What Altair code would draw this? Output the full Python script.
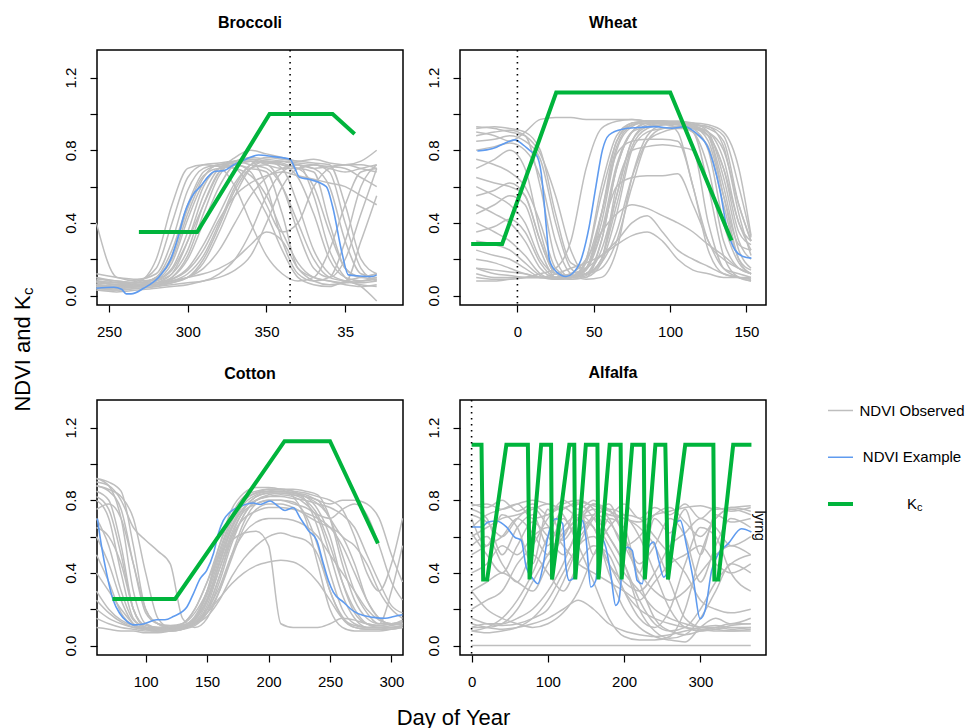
import altair as alt
import pandas as pd

FONT = "Liberation Sans"
GREY = "#BEBEBE"
BLUE = "#5F9BEF"
GREEN = "#00B43C"
YDOM = [-0.052, 1.352]

# ---------------- Broccoli ----------------
broc_days = [242, 255, 268, 280, 290, 300, 310, 320, 330, 340, 350, 360, 370, 380, 390, 400, 410, 420]
broc_obs = [
    [0.08, 0.06, 0.08, 0.15, 0.40, 0.65, 0.72, 0.73, 0.74, 0.72, 0.70, 0.60, 0.40, 0.20, 0.10, 0.08, 0.07, 0.08],
    [0.10, 0.07, 0.06, 0.10, 0.25, 0.50, 0.68, 0.72, 0.74, 0.75, 0.74, 0.72, 0.65, 0.45, 0.20, 0.10, 0.08, 0.09],
    [0.05, 0.04, 0.05, 0.07, 0.12, 0.30, 0.55, 0.70, 0.74, 0.76, 0.75, 0.74, 0.72, 0.70, 0.60, 0.30, 0.12, 0.10],
    [0.06, 0.05, 0.05, 0.06, 0.08, 0.10, 0.18, 0.35, 0.55, 0.70, 0.74, 0.73, 0.70, 0.72, 0.70, 0.68, 0.70, 0.72],
    [0.04, 0.03, 0.04, 0.05, 0.06, 0.07, 0.08, 0.12, 0.20, 0.35, 0.55, 0.68, 0.72, 0.70, 0.71, 0.72, 0.70, 0.68],
    [0.08, 0.07, 0.06, 0.07, 0.10, 0.20, 0.40, 0.60, 0.72, 0.74, 0.60, 0.30, 0.12, 0.08, 0.10, 0.30, 0.60, 0.72],
    [0.40, 0.10, 0.08, 0.09, 0.15, 0.35, 0.60, 0.70, 0.72, 0.70, 0.68, 0.45, 0.15, 0.10, 0.08, 0.06, 0.05, 0.06],
    [0.12, 0.10, 0.09, 0.12, 0.30, 0.58, 0.70, 0.72, 0.73, 0.75, 0.72, 0.70, 0.70, 0.68, 0.40, 0.15, 0.10, 0.12],
    [0.05, 0.05, 0.06, 0.06, 0.08, 0.10, 0.12, 0.15, 0.20, 0.28, 0.35, 0.30, 0.15, 0.08, 0.06, 0.07, 0.30, 0.55],
    [0.06, 0.05, 0.05, 0.08, 0.14, 0.30, 0.50, 0.68, 0.76, 0.80, 0.78, 0.76, 0.74, 0.75, 0.73, 0.72, 0.74, 0.80],
    [0.07, 0.06, 0.05, 0.06, 0.07, 0.10, 0.15, 0.25, 0.40, 0.55, 0.65, 0.70, 0.72, 0.55, 0.25, 0.10, 0.05, -0.03],
    [0.09, 0.08, 0.07, 0.10, 0.20, 0.45, 0.65, 0.72, 0.70, 0.60, 0.45, 0.25, 0.10, 0.06, 0.05, 0.08, 0.10, 0.12],
    [0.05, 0.04, 0.05, 0.06, 0.09, 0.15, 0.28, 0.45, 0.62, 0.72, 0.76, 0.75, 0.74, 0.73, 0.72, 0.50, 0.20, 0.12],
    [0.03, 0.03, 0.04, 0.05, 0.07, 0.10, 0.20, 0.38, 0.58, 0.70, 0.72, 0.60, 0.35, 0.15, 0.10, 0.20, 0.45, 0.70],
    [0.06, 0.05, 0.07, 0.20, 0.50, 0.70, 0.72, 0.71, 0.70, 0.66, 0.55, 0.35, 0.18, 0.10, 0.08, 0.07, 0.08, 0.10],
    [0.04, 0.04, 0.05, 0.06, 0.10, 0.22, 0.45, 0.66, 0.74, 0.74, 0.73, 0.72, 0.70, 0.60, 0.35, 0.15, 0.10, 0.09],
    [0.07, 0.06, 0.06, 0.08, 0.12, 0.25, 0.50, 0.68, 0.72, 0.68, 0.50, 0.35, 0.40, 0.60, 0.70, 0.72, 0.72, 0.70],
    [0.05, 0.05, 0.05, 0.06, 0.08, 0.12, 0.22, 0.40, 0.60, 0.72, 0.74, 0.70, 0.50, 0.25, 0.12, 0.08, 0.06, 0.05],
    [0.10, 0.08, 0.07, 0.09, 0.18, 0.42, 0.62, 0.70, 0.72, 0.74, 0.73, 0.74, 0.73, 0.72, 0.71, 0.70, 0.65, 0.60],
    [0.03, 0.02, 0.03, 0.04, 0.05, 0.06, 0.08, 0.10, 0.14, 0.22, 0.40, 0.60, 0.70, 0.72, 0.68, 0.40, 0.15, 0.08],
    [0.08, 0.07, 0.07, 0.10, 0.22, 0.48, 0.66, 0.70, 0.60, 0.40, 0.22, 0.12, 0.08, 0.10, 0.25, 0.50, 0.68, 0.70],
    [0.06, 0.05, 0.06, 0.07, 0.09, 0.14, 0.25, 0.42, 0.55, 0.62, 0.66, 0.68, 0.66, 0.64, 0.62, 0.60, 0.55, 0.50],
]
broc_ex_day = [242, 253, 258, 261, 264, 272, 282, 289, 294, 298, 304, 308, 313, 317, 323, 329, 337, 345,
               354, 365, 368, 371, 377, 388, 392, 398, 402, 409, 417, 420]
broc_ex_val = [0.04, 0.046, 0.035, 0.009, 0.009, 0.04, 0.105, 0.196, 0.325, 0.453, 0.563, 0.60, 0.655, 0.683,
               0.688, 0.719, 0.751, 0.774, 0.765, 0.751, 0.701, 0.651, 0.64, 0.60, 0.49, 0.233, 0.114, 0.108,
               0.105, 0.114]
broc_kc_day = [269, 306, 352, 392, 406]
broc_kc_val = [0.35, 0.35, 1.0, 1.0, 0.89]
broc_ref = 365
broc_xdom = [242.4, 436.7]
broc_ticks = [250, 300, 350, 400]

# ---------------- Wheat ----------------
wheat_days = [-27, -15, -5, 5, 15, 25, 35, 45, 55, 65, 75, 85, 95, 105, 115, 125, 135, 145, 153]
wheat_obs = [
    [0.93, 0.92, 0.90, 0.88, 0.60, 0.20, 0.10, 0.20, 0.60, 0.88, 0.95, 0.96, 0.96, 0.95, 0.93, 0.85, 0.55, 0.28, 0.25],
    [0.85, 0.86, 0.88, 0.85, 0.75, 0.40, 0.15, 0.10, 0.30, 0.70, 0.90, 0.95, 0.95, 0.94, 0.92, 0.88, 0.70, 0.35, 0.28],
    [0.70, 0.75, 0.80, 0.70, 0.35, 0.12, 0.10, 0.15, 0.40, 0.80, 0.93, 0.96, 0.96, 0.95, 0.94, 0.92, 0.85, 0.50, 0.30],
    [0.50, 0.45, 0.40, 0.30, 0.15, 0.10, 0.10, 0.12, 0.25, 0.55, 0.85, 0.94, 0.95, 0.95, 0.93, 0.88, 0.60, 0.25, 0.15],
    [0.25, 0.22, 0.20, 0.15, 0.10, 0.09, 0.10, 0.20, 0.55, 0.85, 0.95, 0.96, 0.96, 0.95, 0.92, 0.80, 0.40, 0.18, 0.12],
    [0.10, 0.09, 0.09, 0.10, 0.10, 0.10, 0.11, 0.12, 0.15, 0.30, 0.60, 0.85, 0.92, 0.93, 0.93, 0.90, 0.80, 0.50, 0.30],
    [0.90, 0.88, 0.85, 0.90, 0.97, 0.98, 0.98, 0.97, 0.97, 0.97, 0.97, 0.96, 0.96, 0.90, 0.60, 0.30, 0.20, 0.15, 0.12],
    [0.12, 0.10, 0.10, 0.10, 0.10, 0.10, 0.12, 0.15, 0.22, 0.30, 0.40, 0.44, 0.35, 0.25, 0.20, 0.16, 0.12, 0.10, 0.10],
    [0.15, 0.12, 0.11, 0.10, 0.10, 0.12, 0.15, 0.18, 0.22, 0.28, 0.33, 0.35, 0.30, 0.20, 0.14, 0.12, 0.10, 0.10, 0.09],
    [0.20, 0.18, 0.15, 0.12, 0.10, 0.10, 0.12, 0.20, 0.35, 0.45, 0.50, 0.48, 0.44, 0.40, 0.35, 0.28, 0.22, 0.15, 0.12],
    [0.60, 0.55, 0.50, 0.40, 0.20, 0.12, 0.11, 0.15, 0.35, 0.60, 0.65, 0.66, 0.66, 0.67, 0.50, 0.30, 0.15, 0.12, 0.10],
    [0.80, 0.82, 0.84, 0.80, 0.65, 0.30, 0.12, 0.09, 0.10, 0.25, 0.65, 0.88, 0.94, 0.95, 0.95, 0.94, 0.90, 0.70, 0.33],
    [0.35, 0.38, 0.42, 0.35, 0.18, 0.10, 0.09, 0.10, 0.18, 0.45, 0.80, 0.90, 0.92, 0.93, 0.90, 0.60, 0.22, 0.10, 0.08],
    [0.08, 0.08, 0.09, 0.10, 0.12, 0.15, 0.30, 0.70, 0.92, 0.96, 0.97, 0.96, 0.95, 0.94, 0.90, 0.70, 0.30, 0.15, 0.12],
    [0.65, 0.62, 0.60, 0.55, 0.30, 0.12, 0.10, 0.18, 0.45, 0.78, 0.85, 0.86, 0.86, 0.85, 0.60, 0.25, 0.12, 0.10, 0.09],
    [0.55, 0.58, 0.62, 0.55, 0.30, 0.12, 0.10, 0.12, 0.30, 0.70, 0.90, 0.95, 0.96, 0.96, 0.95, 0.90, 0.65, 0.30, 0.20],
    [0.92, 0.93, 0.92, 0.90, 0.80, 0.45, 0.18, 0.15, 0.45, 0.85, 0.94, 0.95, 0.95, 0.94, 0.93, 0.90, 0.75, 0.40, 0.30],
    [0.30, 0.28, 0.25, 0.18, 0.11, 0.09, 0.10, 0.15, 0.45, 0.82, 0.94, 0.96, 0.96, 0.96, 0.94, 0.88, 0.55, 0.20, 0.12],
    [0.45, 0.50, 0.55, 0.50, 0.25, 0.10, 0.09, 0.11, 0.20, 0.50, 0.82, 0.92, 0.94, 0.95, 0.94, 0.93, 0.82, 0.45, 0.22],
    [0.75, 0.72, 0.68, 0.60, 0.40, 0.15, 0.10, 0.14, 0.35, 0.72, 0.90, 0.93, 0.94, 0.93, 0.90, 0.82, 0.50, 0.20, 0.14],
    [0.15, 0.14, 0.13, 0.12, 0.10, 0.10, 0.10, 0.12, 0.18, 0.35, 0.65, 0.85, 0.90, 0.92, 0.92, 0.88, 0.70, 0.40, 0.25],
    [0.88, 0.90, 0.91, 0.88, 0.78, 0.55, 0.25, 0.12, 0.20, 0.55, 0.85, 0.93, 0.95, 0.95, 0.94, 0.93, 0.88, 0.60, 0.32],
    [0.40, 0.35, 0.30, 0.22, 0.12, 0.09, 0.10, 0.12, 0.20, 0.60, 0.80, 0.82, 0.83, 0.82, 0.80, 0.40, 0.15, 0.10, 0.08],
]
wheat_ex_day = [-26.2, -20.2, -13.7, -8.2, -1.7, 3.7, 9.1, 12.4, 15.6, 18.9, 21.0, 25.4, 31.9, 36.2, 41.6, 47.0,
                51.4, 55.7, 60.0, 68.7, 79.5, 90.4, 101.2, 109.9, 114.2, 119.6, 124.0, 128.3, 132.6, 137.0,
                142.4, 147.8, 153.2]
wheat_ex_val = [0.796, 0.802, 0.817, 0.839, 0.857, 0.830, 0.793, 0.774, 0.673, 0.380, 0.196, 0.132, 0.105,
                0.123, 0.196, 0.380, 0.600, 0.802, 0.884, 0.916, 0.925, 0.930, 0.921, 0.930, 0.912, 0.875,
                0.829, 0.728, 0.582, 0.380, 0.252, 0.215, 0.206]
wheat_kc_day = [-30.3, -10.0, 25.4, 100.1, 140.2]
wheat_kc_val = [0.284, 0.284, 1.118, 1.118, 0.303]
wheat_ref = 0
wheat_xdom = [-37.6, 162.8]
wheat_ticks = [0, 50, 100, 150]

# ---------------- Cotton ----------------
cot_days = [60, 70, 80, 90, 100, 110, 120, 130, 140, 150, 160, 170, 180, 190, 200, 210, 220, 230, 240, 250,
            260, 270, 280, 290, 300, 309]
cot_obs = [
    [0.92, 0.88, 0.70, 0.30, 0.12, 0.10, 0.10, 0.12, 0.20, 0.35, 0.55, 0.72, 0.82, 0.85, 0.86, 0.86, 0.85, 0.80, 0.65, 0.40, 0.20, 0.12, 0.10, 0.10, 0.11, 0.12],
    [0.85, 0.80, 0.55, 0.20, 0.10, 0.09, 0.09, 0.10, 0.15, 0.28, 0.48, 0.68, 0.80, 0.84, 0.85, 0.85, 0.84, 0.82, 0.75, 0.60, 0.35, 0.18, 0.12, 0.11, 0.12, 0.13],
    [0.60, 0.45, 0.25, 0.12, 0.09, 0.08, 0.08, 0.09, 0.12, 0.20, 0.38, 0.58, 0.72, 0.80, 0.82, 0.83, 0.82, 0.78, 0.70, 0.50, 0.28, 0.15, 0.10, 0.10, 0.10, 0.11],
    [0.30, 0.20, 0.14, 0.11, 0.10, 0.10, 0.10, 0.10, 0.12, 0.18, 0.30, 0.48, 0.65, 0.75, 0.78, 0.78, 0.76, 0.72, 0.68, 0.65, 0.60, 0.45, 0.25, 0.15, 0.12, 0.12],
    [0.90, 0.88, 0.80, 0.65, 0.58, 0.52, 0.45, 0.15, 0.10, 0.15, 0.30, 0.50, 0.68, 0.78, 0.80, 0.80, 0.78, 0.76, 0.72, 0.70, 0.75, 0.78, 0.72, 0.55, 0.35, 0.25],
    [0.15, 0.12, 0.10, 0.09, 0.08, 0.08, 0.09, 0.10, 0.12, 0.16, 0.25, 0.38, 0.48, 0.55, 0.60, 0.62, 0.60, 0.58, 0.50, 0.30, 0.15, 0.10, 0.09, 0.09, 0.10, 0.10],
    [0.80, 0.70, 0.40, 0.15, 0.10, 0.09, 0.10, 0.12, 0.20, 0.35, 0.50, 0.58, 0.62, 0.63, 0.55, 0.12, 0.10, 0.10, 0.10, 0.12, 0.15, 0.14, 0.12, 0.11, 0.12, 0.12],
    [0.88, 0.85, 0.75, 0.45, 0.18, 0.12, 0.11, 0.12, 0.18, 0.30, 0.50, 0.70, 0.80, 0.84, 0.86, 0.86, 0.85, 0.84, 0.82, 0.80, 0.75, 0.60, 0.40, 0.30, 0.45, 0.70],
    [0.70, 0.55, 0.30, 0.14, 0.10, 0.09, 0.09, 0.10, 0.12, 0.22, 0.42, 0.62, 0.74, 0.78, 0.80, 0.80, 0.79, 0.72, 0.55, 0.30, 0.16, 0.10, 0.09, 0.09, 0.09, 0.10],
    [0.20, 0.15, 0.12, 0.10, 0.09, 0.09, 0.10, 0.11, 0.13, 0.18, 0.26, 0.34, 0.40, 0.44, 0.46, 0.47, 0.46, 0.42, 0.35, 0.25, 0.15, 0.11, 0.10, 0.10, 0.10, 0.11],
    [0.50, 0.35, 0.18, 0.11, 0.09, 0.09, 0.09, 0.10, 0.12, 0.20, 0.38, 0.60, 0.75, 0.82, 0.84, 0.85, 0.84, 0.83, 0.80, 0.78, 0.80, 0.80, 0.78, 0.70, 0.50, 0.35],
    [0.10, 0.09, 0.08, 0.08, 0.07, 0.07, 0.08, 0.09, 0.14, 0.30, 0.55, 0.75, 0.84, 0.87, 0.87, 0.86, 0.82, 0.70, 0.45, 0.20, 0.10, 0.08, 0.08, 0.08, 0.09, 0.10],
    [0.75, 0.78, 0.70, 0.45, 0.20, 0.12, 0.10, 0.10, 0.14, 0.25, 0.42, 0.60, 0.70, 0.74, 0.76, 0.76, 0.75, 0.73, 0.70, 0.65, 0.55, 0.40, 0.25, 0.15, 0.12, 0.14],
    [0.92, 0.90, 0.85, 0.55, 0.20, 0.12, 0.10, 0.11, 0.16, 0.30, 0.52, 0.70, 0.80, 0.84, 0.85, 0.85, 0.84, 0.82, 0.78, 0.70, 0.50, 0.30, 0.18, 0.12, 0.12, 0.13],
    [0.40, 0.30, 0.20, 0.12, 0.09, 0.08, 0.08, 0.09, 0.11, 0.18, 0.35, 0.56, 0.72, 0.80, 0.83, 0.84, 0.83, 0.80, 0.72, 0.55, 0.35, 0.20, 0.12, 0.10, 0.10, 0.10],
    [0.82, 0.75, 0.50, 0.20, 0.11, 0.10, 0.10, 0.11, 0.15, 0.25, 0.45, 0.65, 0.76, 0.80, 0.82, 0.82, 0.81, 0.80, 0.78, 0.76, 0.72, 0.65, 0.50, 0.35, 0.22, 0.18],
    [0.25, 0.18, 0.13, 0.10, 0.09, 0.09, 0.10, 0.11, 0.13, 0.20, 0.32, 0.50, 0.62, 0.68, 0.70, 0.70, 0.69, 0.66, 0.60, 0.50, 0.40, 0.30, 0.20, 0.14, 0.12, 0.12],
    [0.65, 0.60, 0.45, 0.20, 0.10, 0.09, 0.09, 0.10, 0.13, 0.24, 0.46, 0.66, 0.78, 0.83, 0.85, 0.86, 0.86, 0.85, 0.83, 0.70, 0.45, 0.25, 0.15, 0.12, 0.30, 0.55],
    [0.88, 0.86, 0.82, 0.70, 0.40, 0.15, 0.10, 0.10, 0.14, 0.26, 0.45, 0.64, 0.76, 0.82, 0.84, 0.84, 0.83, 0.82, 0.80, 0.70, 0.60, 0.55, 0.45, 0.30, 0.20, 0.15],
]
cot_ex_day = [60.7, 64.2, 68.3, 73.7, 79.1, 84.5, 90.0, 98.1, 109.0, 115.7, 122.5, 133.4, 138.8, 144.2, 149.6,
              155.1, 159.1, 163.2, 168.6, 176.8, 187.6, 193.1, 201.2, 208.0, 213.4, 220.2, 225.6, 232.4,
              239.2, 244.6, 248.7, 252.7, 260.9, 269.1, 277.2, 285.3, 295.0, 302.0, 309.0]
cot_ex_val = [0.699, 0.542, 0.395, 0.248, 0.175, 0.134, 0.114, 0.119, 0.142, 0.142, 0.160, 0.211, 0.285,
              0.367, 0.413, 0.505, 0.616, 0.689, 0.735, 0.766, 0.785, 0.777, 0.796, 0.766, 0.744, 0.759,
              0.704, 0.634, 0.579, 0.450, 0.358, 0.294, 0.239, 0.19, 0.165, 0.155, 0.15, 0.16, 0.17]
cot_kc_day = [73, 124, 213, 250, 289]
cot_kc_val = [0.257, 0.257, 1.125, 1.125, 0.563]
cot_xdom = [60.4, 309.4]
cot_ticks = [100, 150, 200, 250, 300]

# ---------------- Alfalfa ----------------
alf_days = [0, 20, 40, 60, 80, 100, 120, 140, 160, 180, 200, 220, 240, 260, 280, 300, 320, 340, 366]
alf_obs = [
    [0.78, 0.76, 0.80, 0.74, 0.78, 0.72, 0.80, 0.75, 0.80, 0.72, 0.78, 0.70, 0.76, 0.72, 0.78, 0.70, 0.76, 0.74, 0.76],
    [0.70, 0.55, 0.72, 0.65, 0.45, 0.75, 0.60, 0.78, 0.50, 0.70, 0.65, 0.40, 0.70, 0.62, 0.75, 0.50, 0.72, 0.68, 0.70],
    [0.08, 0.10, 0.15, 0.25, 0.40, 0.60, 0.75, 0.78, 0.70, 0.55, 0.40, 0.30, 0.20, 0.15, 0.12, 0.10, 0.10, 0.09, 0.10],
    [0.10, 0.12, 0.12, 0.15, 0.20, 0.30, 0.45, 0.65, 0.78, 0.75, 0.60, 0.35, 0.15, 0.08, 0.06, 0.08, 0.10, 0.12, 0.12],
    [0.60, 0.65, 0.70, 0.72, 0.75, 0.78, 0.72, 0.55, 0.35, 0.15, 0.05, 0.03, 0.03, 0.05, 0.20, 0.50, 0.70, 0.75, 0.72],
    [0.40, 0.45, 0.55, 0.50, 0.60, 0.65, 0.55, 0.45, 0.40, 0.35, 0.30, 0.25, 0.35, 0.45, 0.50, 0.55, 0.45, 0.40, 0.45],
    [0.12, 0.10, 0.09, 0.10, 0.12, 0.15, 0.20, 0.25, 0.20, 0.12, 0.08, 0.06, 0.05, 0.06, 0.08, 0.10, 0.11, 0.10, 0.10],
    [0.75, 0.70, 0.50, 0.65, 0.72, 0.55, 0.70, 0.60, 0.72, 0.78, 0.60, 0.45, 0.55, 0.70, 0.60, 0.35, 0.55, 0.70, 0.65],
    [0.20, 0.25, 0.30, 0.45, 0.55, 0.70, 0.78, 0.80, 0.75, 0.60, 0.45, 0.25, 0.12, 0.08, 0.10, 0.20, 0.35, 0.45, 0.50],
    [0.55, 0.60, 0.45, 0.35, 0.50, 0.40, 0.30, 0.45, 0.55, 0.50, 0.30, 0.15, 0.10, 0.20, 0.45, 0.65, 0.60, 0.40, 0.30],
    [0.65, 0.72, 0.75, 0.78, 0.70, 0.72, 0.76, 0.70, 0.65, 0.40, 0.20, 0.10, 0.05, 0.03, 0.02, 0.10, 0.15, 0.12, 0.15],
    [0.30, 0.20, 0.15, 0.12, 0.10, 0.12, 0.18, 0.30, 0.50, 0.65, 0.72, 0.70, 0.60, 0.50, 0.40, 0.25, 0.20, 0.18, 0.20],
    [0.72, 0.68, 0.60, 0.70, 0.76, 0.66, 0.58, 0.70, 0.78, 0.70, 0.55, 0.60, 0.72, 0.76, 0.68, 0.60, 0.70, 0.76, 0.74],
    [0.08, 0.07, 0.08, 0.10, 0.15, 0.25, 0.40, 0.55, 0.60, 0.45, 0.30, 0.20, 0.15, 0.12, 0.10, 0.09, 0.08, 0.08, 0.09],
    [0.50, 0.55, 0.60, 0.70, 0.62, 0.50, 0.65, 0.72, 0.65, 0.45, 0.35, 0.30, 0.40, 0.55, 0.62, 0.70, 0.65, 0.55, 0.60],
    [0.30, 0.35, 0.40, 0.35, 0.30, 0.45, 0.60, 0.70, 0.72, 0.68, 0.55, 0.40, 0.30, 0.25, 0.30, 0.40, 0.50, 0.55, 0.50],
    [0.15, 0.12, 0.11, 0.12, 0.15, 0.20, 0.35, 0.55, 0.70, 0.75, 0.72, 0.60, 0.40, 0.20, 0.10, 0.08, 0.09, 0.11, 0.12],
    [0.77, 0.78, 0.75, 0.78, 0.80, 0.78, 0.76, 0.79, 0.77, 0.74, 0.70, 0.68, 0.72, 0.74, 0.76, 0.77, 0.75, 0.76, 0.77],
    [0.62, 0.50, 0.40, 0.55, 0.68, 0.60, 0.50, 0.62, 0.70, 0.60, 0.45, 0.20, 0.08, 0.04, 0.06, 0.15, 0.30, 0.45, 0.40],
    [0.10, 0.10, 0.12, 0.20, 0.35, 0.50, 0.62, 0.70, 0.75, 0.72, 0.70, 0.65, 0.55, 0.35, 0.15, 0.10, 0.09, 0.08, 0.08],
    [0.0] * 19,
]
alf_ex_day = [0, 13.0, 21.7, 32.6, 45.6, 56.4, 65.1, 71.6, 80.3, 86.8, 93.4, 99.9, 110.7, 119.4, 123.7, 128.1,
              134.6, 141.1, 145.5, 149.8, 156.3, 162.8, 169.3, 175.9, 182.4, 188.9, 193.2, 197.6, 204.1,
              210.6, 217.1, 223.6, 230.2, 238.8, 245.3, 251.8, 258.4, 264.9, 273.5, 282.2, 290.9, 299.6,
              306.1, 314.8, 323.5, 336.5, 353.9, 366.9]
alf_ex_val = [0.653, 0.653, 0.680, 0.686, 0.653, 0.597, 0.579, 0.432, 0.368, 0.340, 0.432, 0.597, 0.698,
              0.671, 0.432, 0.358, 0.377, 0.579, 0.689, 0.597, 0.322, 0.358, 0.597, 0.542, 0.395, 0.221,
              0.248, 0.432, 0.542, 0.524, 0.358, 0.340, 0.524, 0.570, 0.469, 0.377, 0.432, 0.653, 0.689,
              0.542, 0.358, 0.147, 0.193, 0.414, 0.505, 0.561, 0.643, 0.625]
KC_T, KC_B = 1.106, 0.364
alf_kc_day = [0, 13.0, 15.2, 20.4, 45.6, 73.8, 76.0, 91.2, 104.2, 105.5, 128.1, 134.6, 135.9, 149.8, 165.0,
              166.3, 181.1, 195.4, 196.7, 210.6, 225.8, 227.1, 241.0, 254.0, 257.5, 280.1, 317.0, 318.3,
              323.5, 343.0, 366.9]
alf_kc_lvl = ["T", "T", "B", "B", "T", "T", "B", "T", "T", "B", "T", "T", "B", "T", "T", "B", "T", "T", "B",
              "T", "T", "B", "T", "T", "B", "T", "T", "B", "B", "T", "T"]
alf_kc_val = [KC_T if s == "T" else KC_B for s in alf_kc_lvl]
alf_ref = 0
alf_xdom = [-15.2, 386.0]
alf_ticks = [0, 100, 200, 300]
alf_note = "lyrng"
alf_note_day, alf_note_val = 372, 0.66

# ---------------- Legend ----------------
leg_labels = ["NDVI Observed", "NDVI Example", "K"]
leg_colors = [GREY, BLUE, GREEN]
leg_widths = [1.5, 1.5, 4.0]

Y_LABEL_EXPR = "(round(datum.value * 10) % 4 == 0) ? format(datum.value, '.1f') : ''"


def panel(title, days, obs, ex_d, ex_v, kc_d, kc_v, xdom, ticks, ref=None, x_label_expr=None,
          yaxis_extra=None, xaxis_extra=None, extras=None):
    rows = []
    for i, curve in enumerate(obs):
        assert len(curve) == len(days), (title, i, len(curve))
        for d, v in zip(days, curve):
            rows.append({"id": i, "day": d, "ndvi": v})
    assert len(ex_d) == len(ex_v), title
    obs_df = pd.DataFrame(rows)
    ex_df = pd.DataFrame({"day": ex_d, "ndvi": ex_v})
    kc_df = pd.DataFrame({"day": kc_d, "ndvi": kc_v})

    xscale = alt.Scale(domain=xdom, nice=False, zero=False)
    yscale = alt.Scale(domain=YDOM, nice=False, zero=False)
    xa = dict(values=ticks, title=None)
    if x_label_expr:
        xa["labelExpr"] = x_label_expr
    if xaxis_extra:
        xa.update(xaxis_extra)
    ya = dict(values=[0, 0.2, 0.4, 0.6, 0.8, 1.0, 1.2], title=None, labelExpr=Y_LABEL_EXPR)
    if yaxis_extra:
        ya.update(yaxis_extra)
    X = alt.X("day:Q", scale=xscale, axis=alt.Axis(**xa))
    Y = alt.Y("ndvi:Q", scale=yscale, axis=alt.Axis(**ya))

    grey = alt.Chart(obs_df).mark_line(color=GREY, strokeWidth=1.5, interpolate="monotone").encode(
        x=X, y=Y, detail="id:N")
    blue = alt.Chart(ex_df).mark_line(color=BLUE, strokeWidth=1.6, interpolate="monotone").encode(x=X, y=Y)
    green = alt.Chart(kc_df).mark_line(color=GREEN, strokeWidth=4).encode(x=X, y=Y)
    layers = [grey, blue, green]
    if ref is not None:
        ref_df = pd.DataFrame({"day": [ref]})
        layers.append(alt.Chart(ref_df).mark_rule(color="black", strokeWidth=1.6,
                                                  strokeDash=[1.5, 4.5]).encode(x=X))
    if extras:
        layers.extend(extras(X, Y))
    return alt.layer(*layers).properties(
        width=306, height=255,
        title=alt.TitleParams(title, font=FONT, fontSize=16, fontWeight="bold", color="black",
                              anchor="middle", offset=18),
    )


def p1_extras(X, Y):
    sub = alt.Chart(pd.DataFrame({"t": ["c"]})).mark_text(
        font=FONT, fontSize=15, angle=270, align="left", baseline="alphabetic", color="black"
    ).encode(x=alt.value(-64), y=alt.value(245), text="t:N")
    return [sub]


def p4_extras(X, Y):
    df = pd.DataFrame({"day": [alf_note_day], "ndvi": [alf_note_val], "t": [alf_note]})
    txt = alt.Chart(df).mark_text(font=FONT, fontSize=14, angle=90, align="center",
                                  baseline="alphabetic", color="black").encode(x=X, y=Y, text="t:N")
    return [txt]


p1 = panel("Broccoli", broc_days, broc_obs, broc_ex_day, broc_ex_val, broc_kc_day, broc_kc_val,
           broc_xdom, broc_ticks, ref=broc_ref,
           x_label_expr="datum.value > 365 ? format(datum.value - 365, 'd') : format(datum.value, 'd')",
           yaxis_extra=dict(title="NDVI and K", titleAngle=270, titleX=-68, titleY=303,
                            titleAlign="center", titleBaseline="alphabetic", titleFontSize=22,
                            titleFontWeight="normal", titleFont=FONT, titleColor="black"),
           extras=p1_extras)
p2 = panel("Wheat", wheat_days, wheat_obs, wheat_ex_day, wheat_ex_val, wheat_kc_day, wheat_kc_val,
           wheat_xdom, wheat_ticks, ref=wheat_ref)
p3 = panel("Cotton", cot_days, cot_obs, cot_ex_day, cot_ex_val, cot_kc_day, cot_kc_val,
           cot_xdom, cot_ticks,
           xaxis_extra=dict(title="Day of Year", titleX=356, titleY=69, titleAlign="center",
                            titleBaseline="alphabetic", titleFontSize=22, titleFontWeight="normal",
                            titleFont=FONT, titleColor="black"))
p4 = panel("Alfalfa", alf_days, alf_obs, alf_ex_day, alf_ex_val, alf_kc_day, alf_kc_val,
           alf_xdom, alf_ticks, ref=alf_ref, extras=p4_extras)

# legend panel
leg_df = pd.DataFrame({"idx": list(range(len(leg_labels))), "label": leg_labels,
                       "color": leg_colors, "w": leg_widths})
LY = alt.Y("idx:Q", scale=alt.Scale(domain=[-0.2246, 2.2139], reverse=True, nice=False, zero=False),
           axis=None)
leg_rules = alt.Chart(leg_df).mark_rule().encode(
    x=alt.value(5), x2=alt.value(30), y=LY,
    color=alt.Color("color:N", scale=None),
    strokeWidth=alt.StrokeWidth("w:Q", scale=None))
leg_text = alt.Chart(leg_df).mark_text(font=FONT, fontSize=15, align="center", baseline="middle",
                                       color="black").encode(x=alt.value(89), y=LY, text="label:N")
leg_sub = alt.Chart(pd.DataFrame({"idx": [2], "t": ["c"]})).mark_text(
    font=FONT, fontSize=11, align="left", baseline="middle", dy=4, color="black"
).encode(x=alt.value(94), y=LY, text="t:N")
legend = alt.layer(leg_rules, leg_text, leg_sub).properties(
    width=100, height=114, view=alt.ViewBackground(stroke="transparent"))

blank = alt.Chart(pd.DataFrame({"a": [0]})).mark_point(opacity=0).properties(
    width=100, height=255, view=alt.ViewBackground(stroke="transparent"))

chart = alt.concat(p1, p2, blank, p3, p4, legend, columns=3,
                   spacing={"row": 95, "column": 57}, bounds="flush").properties(
    padding={"left": 2, "top": 6, "right": 0, "bottom": 2}
).configure_view(stroke="black", strokeWidth=1.5).configure_axis(
    grid=False, domain=False, tickColor="black", tickSize=7, tickWidth=1.2,
    labelFont=FONT, labelFontSize=15, labelColor="black", labelFlush=False, labelOverlap=False
).configure_axisY(
    labelAngle=270, labelAlign="center", labelBaseline="alphabetic", labelPadding=15
).configure_axisX(
    labelBaseline="top", labelPadding=12
)

chart.save("out.html", embed_options={"renderer": "svg", "actions": False})
